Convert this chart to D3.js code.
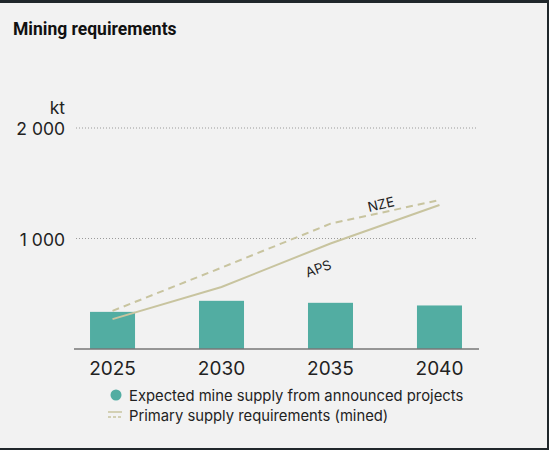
<!DOCTYPE html>
<html>
<head>
<meta charset="utf-8">
<script src="https://d3js.org/d3.v7.min.js"></script>
<style>
  html, body { margin: 0; padding: 0; background: #20272b; }
  svg { display: block; }
</style>
</head>
<body>
<svg width="549" height="450"></svg>
<script>
const years = ['2025', '2030', '2035', '2040'];
const mineSupply = [336, 436, 418, 394];
const aps = [270, 561, 955, 1303];
const nze = [345, 736, 1134, 1348];
const yTicks = [1000, 2000];

const svg = d3.select('svg');
const font = 'Inter, "Open Sans", sans-serif';

// panel background with dark frame on top, right, bottom
svg.append('rect').attr('x', 0).attr('y', 3).attr('width', 547).attr('height', 445).attr('fill', '#f2f2f2');

svg.append('text').attr('x', 13).attr('y', 35)
  .attr('font-family', 'Roboto, "Liberation Sans", sans-serif').attr('font-weight', 'bold')
  .attr('font-size', 17.5).attr('fill', '#111').text('Mining requirements');

const x = d3.scaleBand().domain(years).range([74, 478]).paddingInner(0.587).paddingOuter(0.147);
const y = d3.scaleLinear().domain([0, 2000]).range([349, 128]);

// gridlines
svg.append('g').selectAll('line').data(yTicks).enter().append('line')
  .attr('x1', 76).attr('x2', 476)
  .attr('y1', d => y(d)).attr('y2', d => y(d))
  .attr('stroke', '#9a9a9a').attr('stroke-width', 1).attr('stroke-dasharray', '1,2');

// y labels
svg.append('g').selectAll('text').data(yTicks).enter().append('text')
  .attr('x', 65).attr('y', d => y(d) + 7)
  .attr('text-anchor', 'end').attr('font-family', font).attr('font-size', 17.5).attr('fill', '#222')
  .text(d => d3.format(',')(d).replace(',', ' '));
svg.append('text').attr('x', 65).attr('y', 114).attr('text-anchor', 'end')
  .attr('font-family', font).attr('font-size', 17.5).attr('fill', '#222').text('kt');

// bars
svg.append('g').selectAll('rect').data(mineSupply).enter().append('rect')
  .attr('x', (d, i) => x(years[i]))
  .attr('width', x.bandwidth())
  .attr('y', d => y(d))
  .attr('height', d => y(0) - y(d))
  .attr('fill', '#52ada2');

// baseline
svg.append('line').attr('x1', 74).attr('x2', 479).attr('y1', y(0)).attr('y2', y(0))
  .attr('stroke', '#777').attr('stroke-width', 1.5);

// x labels
svg.append('g').selectAll('text').data(years).enter().append('text')
  .attr('x', d => x(d) + x.bandwidth() / 2).attr('y', 375)
  .attr('text-anchor', 'middle').attr('font-family', font).attr('font-size', 19).attr('fill', '#222')
  .text(d => d);

const line = d3.line().x((d, i) => x(years[i]) + x.bandwidth() / 2).y(d => y(d));
svg.append('path').datum(nze).attr('d', line).attr('fill', 'none')
  .attr('stroke', '#c8c49f').attr('stroke-width', 2).attr('stroke-dasharray', '7,5');
svg.append('path').datum(aps).attr('d', line).attr('fill', 'none')
  .attr('stroke', '#c8c49f').attr('stroke-width', 2);

svg.append('text').attr('transform', 'translate(382,209) rotate(-13)')
  .attr('text-anchor', 'middle').attr('font-family', font).attr('font-size', 13.5).attr('fill', '#222').text('NZE');
svg.append('text').attr('transform', 'translate(320,273) rotate(-20)')
  .attr('text-anchor', 'middle').attr('font-family', font).attr('font-size', 13.5).attr('fill', '#222').text('APS');

// legend
svg.append('circle').attr('cx', 116).attr('cy', 395).attr('r', 5.5).attr('fill', '#52ada2');
svg.append('text').attr('x', 129).attr('y', 400.5).attr('font-family', font).attr('font-size', 14.8)
  .attr('fill', '#222').text('Expected mine supply from announced projects');
svg.append('line').attr('x1', 108).attr('x2', 122).attr('y1', 412).attr('y2', 412)
  .attr('stroke', '#c8c49f').attr('stroke-width', 1.5);
svg.append('line').attr('x1', 108).attr('x2', 122).attr('y1', 417).attr('y2', 417)
  .attr('stroke', '#c8c49f').attr('stroke-width', 1.5).attr('stroke-dasharray', '3,2');
svg.append('text').attr('x', 129).attr('y', 420.5).attr('font-family', font).attr('font-size', 14.8)
  .attr('fill', '#222').text('Primary supply requirements (mined)');
</script>
</body>
</html>
